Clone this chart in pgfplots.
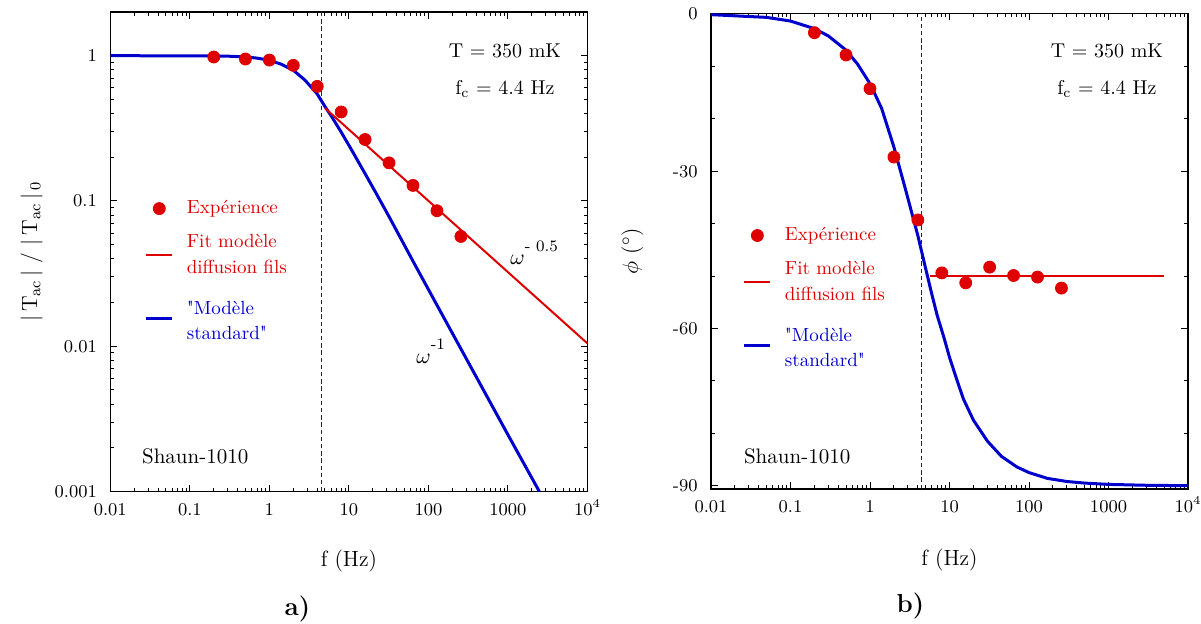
\documentclass[border=0pt]{standalone}
\usepackage{pgfplots}
\pgfplotsset{compat=1.18}
\definecolor{cred}{RGB}{222,0,0}
\definecolor{cblue}{RGB}{0,0,205}
\font\nomapfont="[lmroman10-regular.otf]" at 9.5pt
\newcommand{\sq}{{\nomapfont"}}
\newcommand{\topstrut}{\rule{0pt}{10pt}}
\newcommand{\botstrut}{\rule[-5pt]{0pt}{5pt}}
\pgfplotsset{
  legline/.style={legend image code/.code={\draw[##1] (0pt,0pt) -- (13pt,0pt);}},
  legmark/.style={legend image code/.code={\draw[mark repeat=2,mark phase=2,##1] plot coordinates {(0pt,0pt) (6.5pt,0pt) (13pt,0pt)};}},
}
\begin{document}
\begin{tikzpicture}[x=1pt,y=1pt]
\path[use as bounding box] (0,0) rectangle (600.5,311.5);

% ---------------- a) ----------------
\begin{axis}[
  xmode=log, ymode=log,
  scale only axis,
  at={(55.15pt,65.75pt)}, anchor=south west,
  width=238.6pt, height=239.75pt,
  axis line style={line width=0.6pt},
  tick style={black, line width=0.5pt},
  tick align=inside,
  major tick length=3.5pt, minor tick length=2pt,
  xmin=0.01, xmax=10000,
  xtick={0.01,0.1,1,10,100,1000,10000},
  xticklabels={0.01,0.1,1,10,100,1000,10\textsuperscript{4}},
  minor xtick={0.02,0.03,0.04,0.05,0.06,0.07,0.08,0.09,0.2,0.3,0.4,0.5,0.6,0.7,0.8,0.9,2,3,4,5,6,7,8,9,20,30,40,50,60,70,80,90,200,300,400,500,600,700,800,900,2000,3000,4000,5000,6000,7000,8000,9000},
  xticklabel style={font=\fontsize{9}{10}\selectfont, text height=6pt, text depth=0pt, inner sep=0pt, anchor=north, yshift=-5.6pt},
  yticklabel style={font=\fontsize{9}{10}\selectfont, text height=6pt, text depth=0pt, inner sep=0pt, anchor=east, xshift=-6.5pt},
  ymin=0.001, ymax=2,
  ytick={0.001,0.01,0.1,1}, yticklabels={0.001,0.01,0.1,1},
  minor ytick={0.002,0.003,0.004,0.005,0.006,0.007,0.008,0.009,0.02,0.03,0.04,0.05,0.06,0.07,0.08,0.09,0.2,0.3,0.4,0.5,0.6,0.7,0.8,0.9},
  xlabel={f (Hz)},
  xlabel style={font=\fontsize{11}{13}\selectfont, at={(axis description cs:0.5,0)}, anchor=center, yshift=-34.5pt},
  ylabel={\textbar\,T\textsubscript{ac}\,\textbar\ /\ \textbar\,T\textsubscript{ac}\,\textbar\textsubscript{\,0}},
  ylabel style={font=\fontsize{11}{13}\selectfont, at={(axis description cs:-0.165,0.5)}, anchor=center},
  legend cell align=left,
  legend style={at={(axis description cs:0.0715,0.612)}, anchor=north west, draw=none, fill=none, inner sep=0pt, row sep=7pt,
      font=\fontsize{9.5}{12.6}\selectfont, nodes={inner sep=1pt}, cells={align=left},
      /tikz/every odd column/.append style={column sep=5.5pt}},
]
\addlegendimage{only marks, mark=*, mark size=3pt, color=cred, legmark}
\addlegendentry[text=cred]{Expérience}
\addlegendimage{cred, line width=1pt, legline}
\addlegendentry[text=cred]{Fit modèle\\diffusion fils}
\addlegendimage{cblue, line width=1.5pt, legline}
\addlegendentry[text=cblue]{\topstrut\sq Modèle\\standard\sq\botstrut}

\addplot[forget plot, black!85, line width=0.5pt, dash pattern=on 2.2pt off 1.4pt] coordinates {(4.5,0.001) (4.5,2)};
\addplot[forget plot, cblue, line width=1.5pt] coordinates {
(0.01,1) (0.1,0.999) (0.3,0.993) (0.5,0.981) (0.7,0.963) (1,0.93) (1.4,0.875) (2,0.795) (2.8,0.68) (4,0.545) (5,0.447) (6,0.385) (8,0.298) (11,0.221) (16,0.154) (22,0.113) (32,0.078) (64,0.0385) (128,0.0192) (256,0.0096) (512,0.0048) (1024,0.0024) (2480,0.001)};
\addplot[forget plot, cred, line width=1pt] coordinates {(5.0,0.436) (10000,0.01045)};
\addplot[forget plot, only marks, mark=*, mark size=3pt, color=cred] coordinates {
(0.2,0.98) (0.5,0.949) (1,0.934) (2,0.858) (4,0.615) (8,0.41) (16,0.265) (32,0.183) (64,0.128) (128,0.0857) (256,0.057)};

\node[anchor=base, font=\fontsize{10}{12}\selectfont] at (rel axis cs:0.827,0.9055) {T = 350 mK};
\node[anchor=base, font=\fontsize{10}{12}\selectfont] at (rel axis cs:0.827,0.829) {f\textsubscript{c} = 4.4 Hz};
\node[anchor=base west, font=\fontsize{10.5}{12}\selectfont] at (rel axis cs:0.0518,0.0574) {Shaun-1010};
\node[anchor=base west, font=\fontsize{11}{13}\selectfont, inner sep=0pt] at (rel axis cs:0.8376,0.4724) {$\omega$\raisebox{6.5pt}{\fontsize{8}{9}\selectfont - 0.5}};
\node[anchor=base west, font=\fontsize{11}{13}\selectfont, inner sep=0pt] at (rel axis cs:0.6406,0.268) {$\omega$\raisebox{6.5pt}{\fontsize{8}{9}\selectfont -1}};
\end{axis}

% ---------------- b) ----------------
\begin{axis}[
  xmode=log,
  scale only axis,
  at={(355.5pt,67pt)}, anchor=south west,
  width=238.5pt, height=237.85pt,
  axis line style={line width=0.6pt},
  tick style={black, line width=0.5pt},
  tick align=inside,
  major tick length=3.5pt, minor tick length=2pt,
  xmin=0.01, xmax=10000,
  xtick={0.01,0.1,1,10,100,1000,10000},
  xticklabels={0.01,0.1,1,10,100,1000,10\textsuperscript{4}},
  minor xtick={0.02,0.03,0.04,0.05,0.06,0.07,0.08,0.09,0.2,0.3,0.4,0.5,0.6,0.7,0.8,0.9,2,3,4,5,6,7,8,9,20,30,40,50,60,70,80,90,200,300,400,500,600,700,800,900,2000,3000,4000,5000,6000,7000,8000,9000},
  xticklabel style={font=\fontsize{9}{10}\selectfont, text height=6pt, text depth=0pt, inner sep=0pt, anchor=north, yshift=-5.6pt},
  yticklabel style={font=\fontsize{9}{10}\selectfont, text height=6pt, text depth=0pt, inner sep=0pt, anchor=east, xshift=-6.5pt},
  ymin=-90.63, ymax=0.13,
  ytick={-90,-60,-30,0}, yticklabels={-90,-60,-30,0},
  minor ytick={-80,-70,-50,-40,-20,-10},
  xlabel={f (Hz)},
  xlabel style={font=\fontsize{11}{13}\selectfont, at={(axis description cs:0.5,0)}, anchor=center, yshift=-35.5pt},
  ylabel={$\phi$ ($^\circ$)},
  ylabel style={font=\fontsize{11}{13}\selectfont, at={(axis description cs:-0.165,0.5)}, anchor=center},
  legend cell align=left,
  legend style={at={(axis description cs:0.066,0.555)}, anchor=north west, draw=none, fill=none, inner sep=0pt, row sep=7pt,
      font=\fontsize{9.5}{12.6}\selectfont, nodes={inner sep=1pt}, cells={align=left},
      /tikz/every odd column/.append style={column sep=5.5pt}},
]
\addlegendimage{only marks, mark=*, mark size=3pt, color=cred, legmark}
\addlegendentry[text=cred]{Expérience}
\addlegendimage{cred, line width=1pt, legline}
\addlegendentry[text=cred]{Fit modèle\\diffusion fils}
\addlegendimage{cblue, line width=1.5pt, legline}
\addlegendentry[text=cblue]{\topstrut\sq Modèle\\standard\sq\botstrut}

\addplot[forget plot, black!85, line width=0.5pt, dash pattern=on 2.2pt off 1.4pt] coordinates {(4.5,-90.63) (4.5,0.13)};
\addplot[forget plot, cblue, line width=1.5pt] coordinates {
(0.01,-0.13) (0.05,-0.65) (0.1,-1.35) (0.2,-2.8) (0.3,-4.2) (0.5,-6.9) (0.7,-9.6) (1,-13.3) (1.4,-18) (2,-25.4) (2.8,-33.5) (4,-42.3) (5,-48.5) (6,-53.5) (7,-57.5) (8.5,-61.7) (10,-65.5) (12.5,-70) (15,-73.5) (20,-77.5) (30,-81.5) (45,-84.4) (70,-86.4) (100,-87.5) (170,-88.6) (300,-89.2) (500,-89.5) (1000,-89.75) (3000,-89.92) (10000,-90)};
\addplot[forget plot, cred, line width=1pt] coordinates {(5.7,-50) (5000,-50)};
\addplot[forget plot, only marks, mark=*, mark size=3pt, color=cred] coordinates {
(0.2,-3.57) (0.5,-7.82) (1,-14.25) (2,-27.3) (4,-39.3) (8,-49.4) (16,-51.3) (32,-48.3) (64,-49.9) (128,-50.2) (256,-52.3)};

\node[anchor=base, font=\fontsize{10}{12}\selectfont] at (rel axis cs:0.830,0.9075) {T = 350 mK};
\node[anchor=base, font=\fontsize{10}{12}\selectfont] at (rel axis cs:0.830,0.830) {f\textsubscript{c} = 4.4 Hz};
\node[anchor=base west, font=\fontsize{10.5}{12}\selectfont] at (rel axis cs:0.0545,0.054) {Shaun-1010};
\end{axis}

\node[font=\fontsize{13}{15}\selectfont\bfseries] at (148.75,7) {a)};
\node[font=\fontsize{13}{15}\selectfont\bfseries] at (455.25,8.25) {b)};
\end{tikzpicture}
\end{document}
